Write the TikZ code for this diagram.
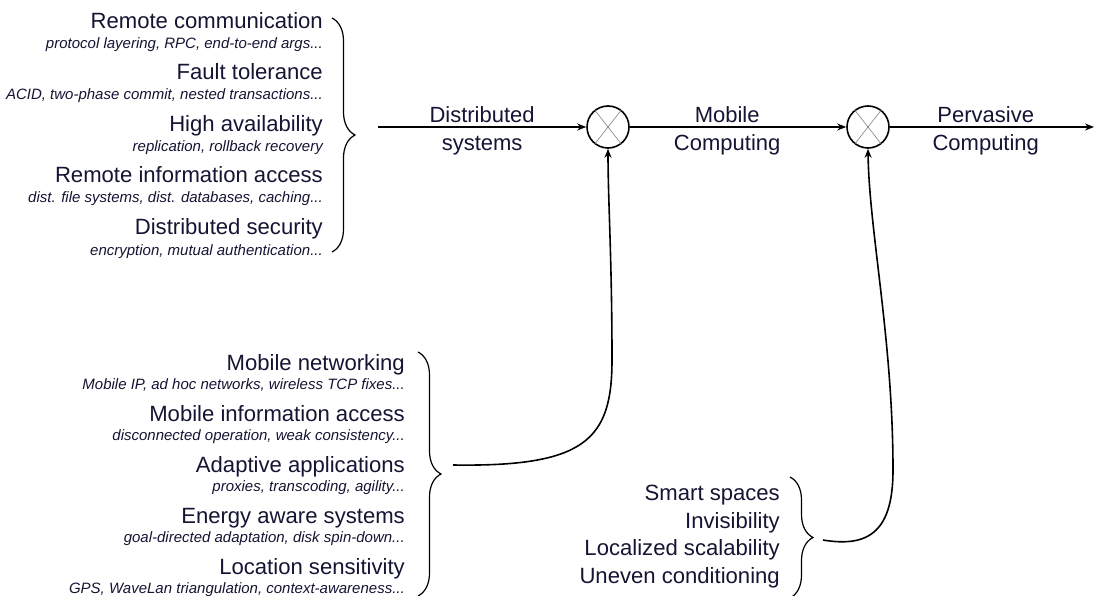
\documentclass[tikz,border=0pt]{standalone}
\usepackage{fontspec}
\setmainfont{Liberation Sans}
\usetikzlibrary{arrows.meta,decorations.pathreplacing}
\definecolor{textc}{rgb}{0.08,0.08,0.2}
\begin{document}
\begin{tikzpicture}[x=1pt,y=-1pt,
  item/.style={font=\fontsize{22.1}{26}\selectfont, text=textc, anchor=base east, inner sep=0pt},
  detail/.style={font=\fontsize{15}{17}\selectfont\itshape, text=textc, anchor=base east, inner sep=0pt},
  lbl/.style={font=\fontsize{22}{28}\selectfont, text=textc, align=center, inner sep=0pt, yshift=-4pt},
  conn/.style={line width=1.6pt, -{Stealth[length=9pt,width=7pt]}},
  brc/.style={line width=1.2pt, decorate, decoration={brace, amplitude=23pt}},
  mix/.style={circle, draw, line width=1.6pt, minimum size=42pt, inner sep=0pt},
  xline/.style={gray, line width=0.6pt}
]
\useasboundingbox (0,0) rectangle (1095,596);

% ---- top group: distributed systems
\node[item]   (rc)  at (323,29)  {Remote communication};
\node[detail] (rcd) at (323,49)  {protocol layering, RPC, end-to-end args...};
\node[item]   (ft)  at (323,80)  {Fault tolerance};
\node[detail] (ftd) at (323,100) {ACID, two-phase commit, nested transactions...};
\node[item]   (ha)  at (323,132) {High availability};
\node[detail] (had) at (323,152) {replication, rollback recovery};
\node[item]   (ria) at (323,183) {Remote information access};
\node[detail] (riad) at (323,203) {dist. file systems, dist. databases, caching...};
\node[item]   (ds)  at (323,235) {Distributed security};
\node[detail] (dsd) at (323,255) {encryption, mutual authentication...};
\draw[brc] (332,18) -- (332,252);
\coordinate (dsstart) at (378,127);

% ---- middle group: mobile computing
\node[item]   (mn)  at (405,370) {Mobile networking};
\node[detail] (mnd) at (405,389) {Mobile IP, ad hoc networks, wireless TCP fixes...};
\node[item]   (mia) at (405,421) {Mobile information access};
\node[detail] (miad) at (405,440) {disconnected operation, weak consistency...};
\node[item]   (aa)  at (405,472) {Adaptive applications};
\node[detail] (aad) at (405,491) {proxies, transcoding, agility...};
\node[item]   (eas) at (405,523) {Energy aware systems};
\node[detail] (easd) at (405,542) {goal-directed adaptation, disk spin-down...};
\node[item]   (ls)  at (405,574) {Location sensitivity};
\node[detail] (lsd) at (405,593) {GPS, WaveLan triangulation, context-awareness...};
\draw[brc] (418,352) -- (418,596);
\coordinate (mstart) at (453,465);

% ---- bottom group: pervasive computing
\node[item] (ss) at (780,500) {Smart spaces};
\node[item] (inv) at (780,528) {Invisibility};
\node[item] (lsc) at (780,555) {Localized scalability};
\node[item] (uc) at (780,583) {Uneven conditioning};
\draw[brc] (790,477) -- (790,598);
\coordinate (pstart) at (823,540);

% ---- combiners
\node[mix] (c1) at (608,127) {};
\node[mix] (c2) at (868,127) {};
\draw[xline] (c1.128) -- (c1.-52) (c1.52) -- (c1.-128);
\draw[xline] (c2.128) -- (c2.-52) (c2.52) -- (c2.-128);
\coordinate (pend) at (1094,127);

% ---- main chain
\draw[conn] (dsstart) -- node[lbl]{Distributed\\systems} (c1);
\draw[conn] (c1) -- node[lbl, pos=0.45]{Mobile\\Computing} (c2);
\draw[conn] (c2) -- node[lbl, pos=0.47]{Pervasive\\Computing} (pend);

% ---- feeders
\draw[conn] (mstart) .. controls (585,467) and (612,440) .. (612,360)
            .. controls (612,260) and (608,200) .. (c1.south);
\draw[conn] (pstart) .. controls (870,548) and (893,530) .. (893,470)
            .. controls (893,340) and (869,230) .. (c2.south);
\end{tikzpicture}
\end{document}
